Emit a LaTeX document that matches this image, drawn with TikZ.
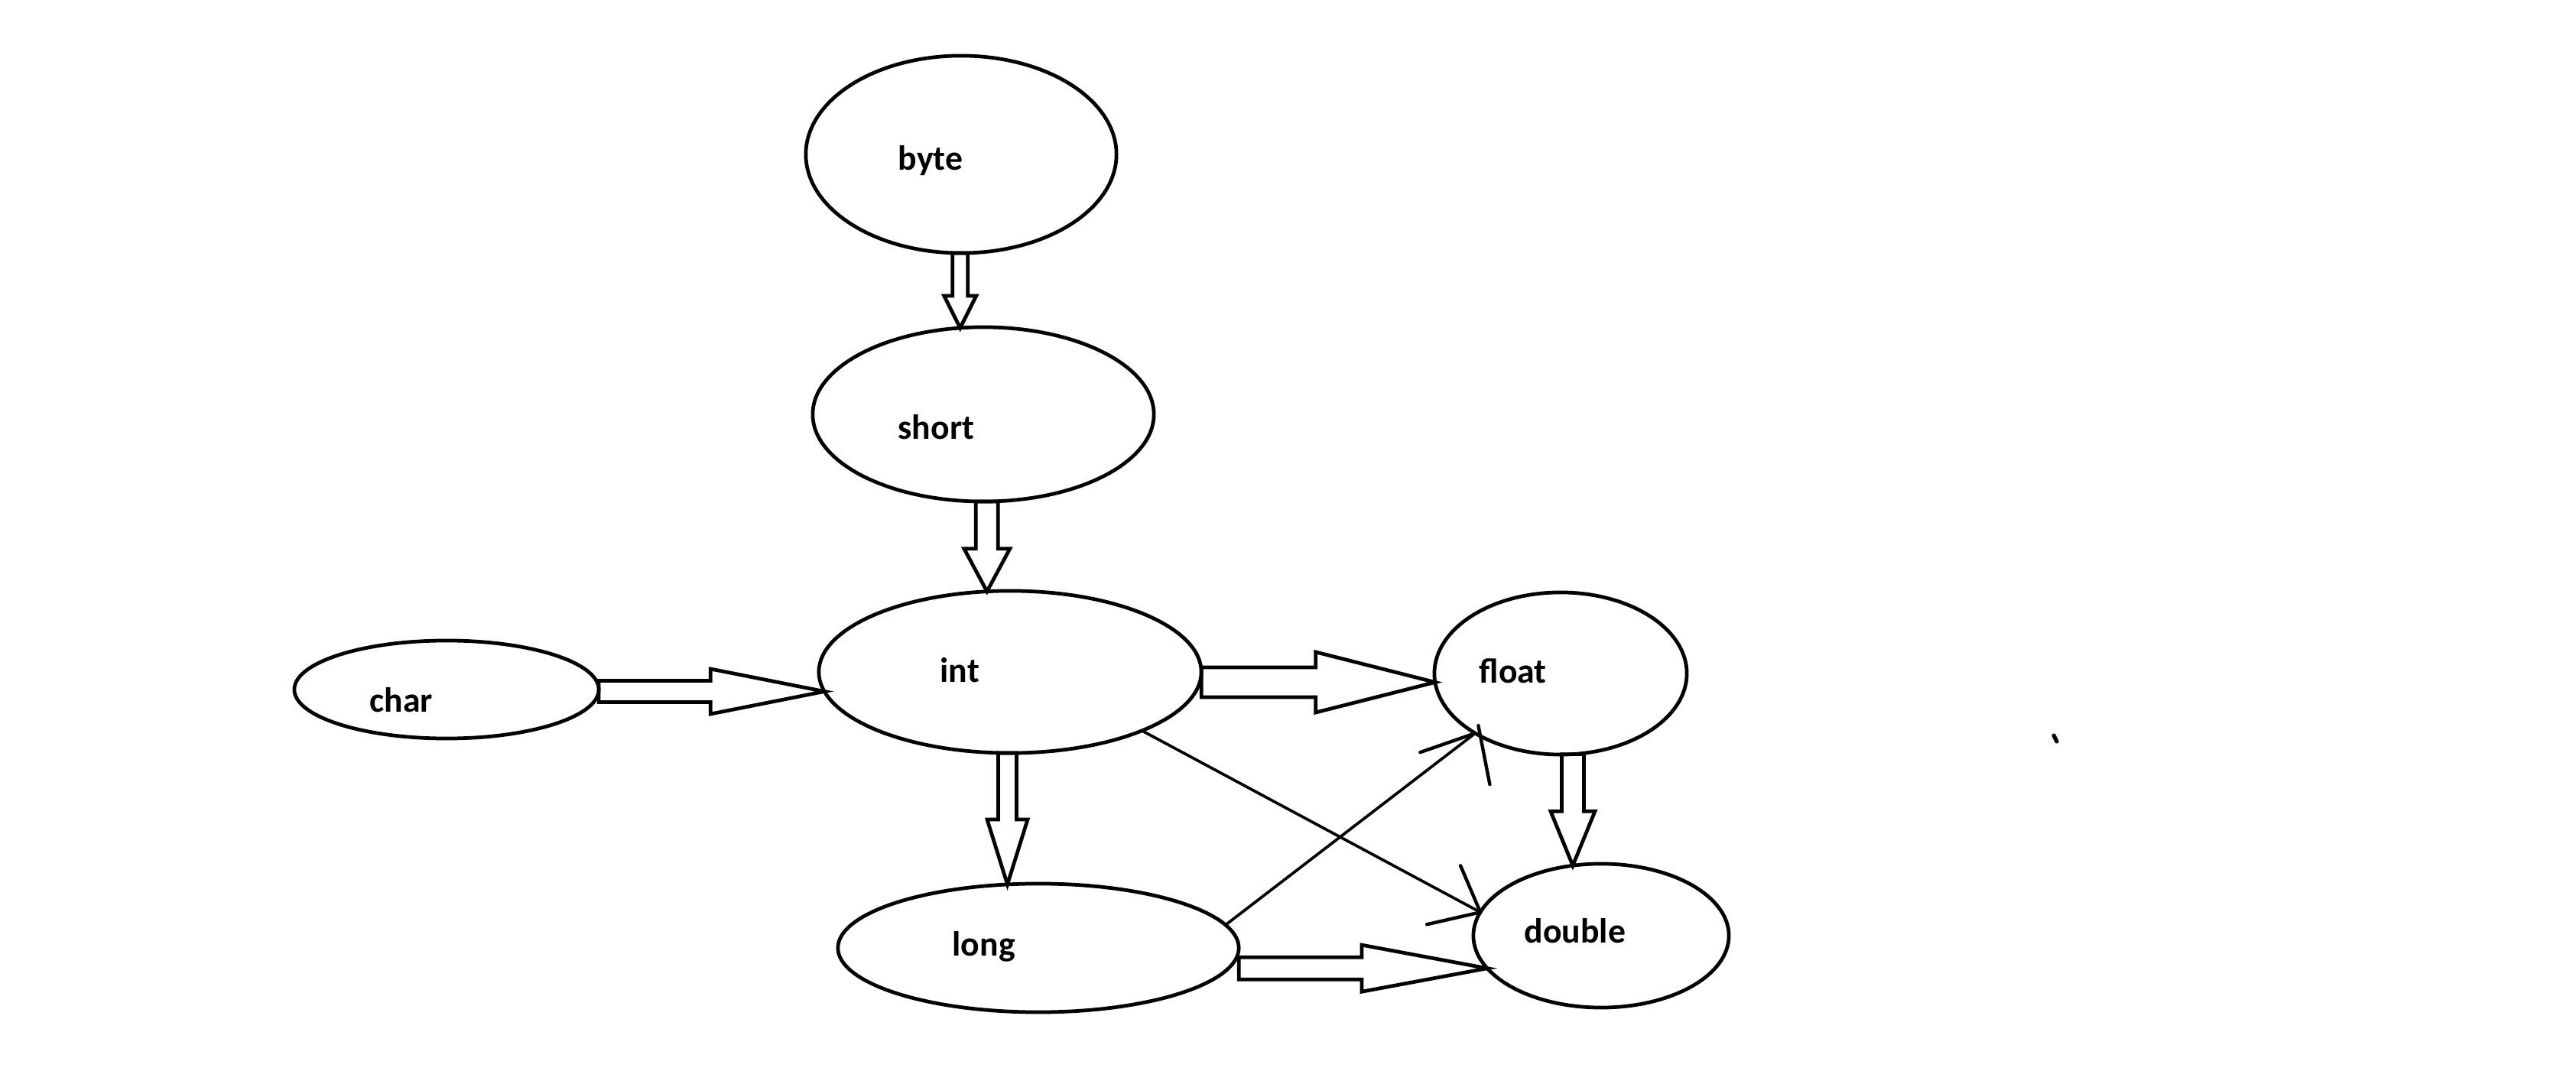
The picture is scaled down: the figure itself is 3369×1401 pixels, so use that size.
\documentclass[tikz,border=0pt]{standalone}
\usepackage{fontspec}
\setmainfont{Carlito}
\usetikzlibrary{shapes.geometric,calc}
\tikzset{
  ell/.style={ellipse, draw, line width=1.35pt, inner sep=0pt, outer sep=0pt},
  lbl/.style={anchor=base west, inner sep=0pt, font=\fontsize{13}{15}\selectfont\bfseries},
  blockline/.style={draw, line width=1.35pt, line join=miter},
  thinline/.style={line width=1.05pt},
  barb/.style={line width=1.25pt, line cap=round},
}
% hollow block arrow: #1 start, #2 tip, #3 shaft half width, #4 head half width, #5 head length (px)
\newcommand\blockarrow[5]{%
  \path let \p1=(#1), \p2=(#2) in \pgfextra{%
    \pgfmathparse{atan2(\y2-\y1,\x2-\x1)}\xdef\baang{\pgfmathresult}%
    \pgfmathparse{veclen(\x2-\x1,\y2-\y1)}\xdef\balen{\pgfmathresult}};
  \draw[blockline, shift={(#1)}, rotate=\baang]
    (0pt,{#3*0.28453pt}) -- ({\balen pt-#5*0.28453pt},{#3*0.28453pt})
    -- ({\balen pt-#5*0.28453pt},{#4*0.28453pt}) -- (\balen pt,0pt)
    -- ({\balen pt-#5*0.28453pt},{-#4*0.28453pt}) -- ({\balen pt-#5*0.28453pt},{-#3*0.28453pt})
    -- (0pt,{-#3*0.28453pt}) -- cycle;}
\begin{document}
\begin{tikzpicture}[x=0.01cm, y=-0.01cm]
\fill[white] (0,0) rectangle (3369,1401);
\useasboundingbox (0,0) rectangle (3369,1401);
% ellipses
\node[ell, minimum width=4.06cm, minimum height=2.58cm] (byte) at (1257,202) {};
\node[ell, minimum width=4.46cm, minimum height=2.28cm] (short) at (1286,542) {};
\node[ell, minimum width=5.00cm, minimum height=2.12cm] (int) at (1321,879) {};
\node[ell, minimum width=3.98cm, minimum height=1.28cm] (char) at (584,902) {};
\node[ell, minimum width=3.30cm, minimum height=2.12cm] (float) at (2041,881) {};
\node[ell, minimum width=5.24cm, minimum height=1.68cm] (long) at (1358,1240) {};
\node[ell, minimum width=3.34cm, minimum height=1.88cm] (double) at (2094,1224) {};
% labels
\node[lbl] (byteT) at (1174,223) {byte};
\node[lbl] (shortT) at (1174,575) {short};
\node[lbl] (intT) at (1229,893) {int};
\node[lbl] (charT) at (483,932) {char};
\node[lbl] (floatT) at (1934,894) {float};
\node[lbl] (longT) at (1245,1250) {long};
\node[lbl] (doubleT) at (1993,1233) {double};
% block arrows
\blockarrow{short.105 |- byte.south}{short.105}{10}{21}{42}
\blockarrow{int.106 |- short.south}{int.106}{14.5}{30}{56}
\blockarrow{char.east |- int.186}{int.186}{14}{29.5}{149}
\blockarrow{int.east |- float.184}{float.184}{19.5}{39.5}{156}
\blockarrow{long.116 |- int.267}{long.116}{12}{26.5}{85}
\blockarrow{double.112 |- float.278}{double.112}{14.5}{29}{71}
\blockarrow{long.east |- double.196}{double.196}{14.5}{30.5}{164}
% thin hand-drawn arrows
\draw[thinline] (long.7) -- (float.215);
\draw[barb] (float.215) -- ++(-72,25);
\draw[barb] ($(float.215)+(4,-10)$) -- ++(15,77);
\draw[thinline] (int.-24) -- (double.169);
\draw[barb] (double.169) -- ++(-26,-61);
\draw[barb] (double.169) -- ++(-70,16);
% stray mark
\draw[line width=1.5pt, line cap=round] (2686,962) -- (2690,970);
\end{tikzpicture}
\end{document}
